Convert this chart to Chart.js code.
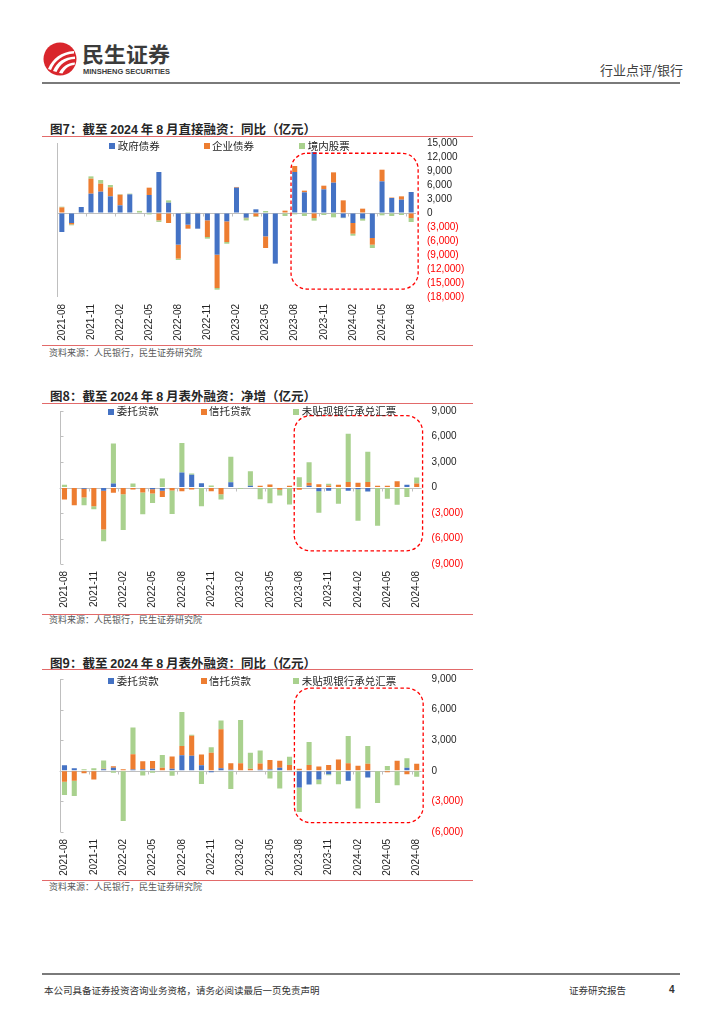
<!DOCTYPE html>
<html>
<head>
<meta charset="utf-8">
<script src="https://cdn.jsdelivr.net/npm/chart.js@4.4.1/dist/chart.umd.min.js"></script>
<style>
  html, body { margin:0; padding:0; background:#fff; }
  body { width:724px; height:1024px; position:relative; overflow:hidden;
         font-family:'Liberation Sans','Noto Sans CJK SC',sans-serif; color:#262626; }
  .abs { position:absolute; }
  .title { position:absolute; left:50px; font-size:12.5px; font-weight:bold; color:#262626; white-space:nowrap; line-height:16px; font-family:'Noto Sans CJK SC','Liberation Sans',sans-serif; }
  .title b { font-family:'Liberation Sans','Noto Sans CJK SC',sans-serif; }
  .rline { position:absolute; left:42px; width:431px; height:1px; background:#e26a6a; }
  .src { position:absolute; left:49px; font-size:9px; color:#595959; white-space:nowrap; line-height:12px; font-family:'Noto Sans CJK SC',sans-serif; }
  .lg { position:absolute; font-size:10.5px; color:#262626; white-space:nowrap; line-height:12px; font-family:'Noto Sans CJK SC',sans-serif; }
  .mk { position:absolute; width:6px; height:6px; }
  canvas { position:absolute; }
</style>
</head>
<body>
<!-- header -->
<svg class="abs" style="left:43px;top:42px" width="34" height="34" viewBox="0 0 34 34">
  <circle cx="17" cy="17" r="16.5" fill="#d9262c"/>
  <path d="M5 27 C 10 16, 18 10, 31 9 L 31 11.5 C 20 12.5, 12 18, 8 28 Z" fill="#fff"/>
  <path d="M10 29 C 14 20, 21 15, 32 14.5 L 32 17 C 23 17.5, 17 22, 13.5 30 Z" fill="#fff"/>
  <path d="M16 31 C 19 25, 24 21, 32 20.5 L 31.5 23 C 26 23.5, 22 26.5, 19.5 31.5 Z" fill="#fff"/>
</svg>
<svg class="abs" style="left:82px;top:42px" width="100" height="36">
  <text x="0" y="20" font-size="21" font-weight="bold" fill="#3b3b3b" font-family="Noto Sans CJK SC" textLength="88" lengthAdjust="spacingAndGlyphs">民生证券</text>
  <text x="1" y="31.5" font-size="7.8" font-weight="bold" fill="#3b3b3b" font-family="Liberation Sans" textLength="87" lengthAdjust="spacingAndGlyphs">MINSHENG SECURITIES</text>
</svg>
<div class="abs" style="left:600px;top:61px;font-size:13px;color:#404040;line-height:18px;font-family:'Noto Sans CJK SC',sans-serif;white-space:nowrap">行业点评/银行</div>
<div class="abs" style="left:42px;top:82px;width:638px;height:1.5px;background:#7a7a7a"></div>

<!-- figure 7 -->
<div class="title" style="top:121px">图7：截至 <b>2024</b> 年 <b>8</b> 月直接融资：同比（亿元）</div>
<div class="rline" style="top:135.5px"></div>
<canvas id="c7" width="431" height="208" style="left:42px;top:137px"></canvas>
<div class="rline" style="top:345px"></div>
<div class="src" style="top:347px">资料来源：人民银行，民生证券研究院</div>

<!-- figure 8 -->
<div class="title" style="top:388px">图8：截至 <b>2024</b> 年 <b>8</b> 月表外融资：净增（亿元）</div>
<div class="rline" style="top:402.5px"></div>
<canvas id="c8" width="431" height="209" style="left:42px;top:404px"></canvas>
<div class="rline" style="top:613.5px"></div>
<div class="src" style="top:614px">资料来源：人民银行，民生证券研究院</div>

<!-- figure 9 -->
<div class="title" style="top:655px">图9：截至 <b>2024</b> 年 <b>8</b> 月表外融资：同比（亿元）</div>
<div class="rline" style="top:669px"></div>
<canvas id="c9" width="431" height="210" style="left:42px;top:670px"></canvas>
<div class="rline" style="top:880px"></div>
<div class="src" style="top:881px">资料来源：人民银行，民生证券研究院</div>

<!-- footer -->
<div class="abs" style="left:42px;top:973px;width:638px;height:1.5px;background:#7a7a7a"></div>
<div class="abs" style="left:44px;top:983px;font-size:9.5px;color:#333;line-height:14px;white-space:nowrap;font-family:'Noto Sans CJK SC',sans-serif">本公司具备证券投资咨询业务资格，请务必阅读最后一页免责声明</div>
<div class="abs" style="left:569px;top:983px;font-size:9.5px;color:#333;line-height:14px;white-space:nowrap;font-family:'Noto Sans CJK SC',sans-serif">证券研究报告</div>
<div class="abs" style="left:669px;top:983px;font-size:10px;font-weight:bold;color:#333;line-height:14px">4</div>

<div id="legends"></div>

<script>
// ---------------- data ----------------
const months = ['2021-08','2021-09','2021-10','2021-11','2021-12','2022-01','2022-02','2022-03','2022-04','2022-05','2022-06','2022-07',
  '2022-08','2022-09','2022-10','2022-11','2022-12','2023-01','2023-02','2023-03','2023-04','2023-05','2023-06','2023-07',
  '2023-08','2023-09','2023-10','2023-11','2023-12','2024-01','2024-02','2024-03','2024-04','2024-05','2024-06','2024-07','2024-08'];

// 图7 直接融资 同比（亿元）
const govBond7 = [-4070,-2140,1285,4140,4570,3570,1640,4000,100,3860,8780,2210,
  -6780,-2500,-3360,-1570,-8930,-1790,5430,-1000,790,-5000,-10850,0,
  8780,4430,13070,5070,6500,-1000,-2140,-1210,-5360,6780,3210,2860,4500];
const corpBond7 = [1200,-300,0,3210,1710,1930,2280,0,0,1570,-1570,-2140,
  -3000,-860,80,-3570,-7140,-4430,150,-100,-710,-2500,0,500,
  1290,360,-1070,785,2210,2710,-2290,930,-1430,2500,100,710,-1070];
const equity7 = [150,-200,0,500,785,500,100,150,350,-300,-350,500,
  -290,200,0,-360,-360,-360,0,-500,-150,430,0,-640,
  -290,-640,-570,-430,-930,-100,-430,-430,-710,-500,-640,-430,-860];

// 图8 表外融资 净增（亿元）
const entrust8 = [-50,0,-160,0,-390,470,0,0,0,-200,-390,0,
  1760,1490,510,0,0,630,50,200,0,0,0,0,
  0,200,-430,-390,0,-390,-200,-470,0,0,0,310,0];
const trust8 = [-1370,-2080,-1020,-2200,-4550,-630,-780,-240,-590,-510,-740,-350,
  -430,-240,0,-430,-780,0,0,0,200,350,-270,200,
  -270,350,390,240,310,660,550,660,200,200,740,0,470];
const bill8 = [310,0,-900,-350,-1370,4700,-4230,470,-2550,-1100,1060,-2780,
  3490,160,-2200,240,-630,2980,-150,1700,-1370,-1840,-660,-2000,
  1210,2420,-2540,200,-1910,5660,-3700,3550,-4490,-1330,-2030,-1130,700];

// 图9 表外融资 同比（亿元）
const entrust9 = [550,260,0,0,150,290,0,130,160,200,0,200,
  1530,1470,550,-130,260,100,0,0,100,130,300,0,
  -1640,-1350,-850,-330,0,-980,0,-660,0,0,0,300,0];
const trust9 = [-1080,-980,-230,-850,50,160,160,1500,780,750,290,1210,
  910,1960,1040,1760,3810,650,750,200,620,920,690,560,
  200,560,430,560,1120,750,490,690,50,-130,980,-330,690];
const bill9 = [-1300,-1500,160,260,800,-200,-4920,2610,-460,-200,1270,-490,
  3330,100,-1300,550,850,-1790,4230,1570,1280,-750,-1740,820,
  -2400,2260,-460,-100,-1310,2660,-3700,1740,-3150,460,-1410,920,-590];

// axis ranges (亿元)
const axis7 = {min:-18000, max:15000, step:3000};
const axis8 = {min:-9000, max:9000, step:3000};
const axis9 = {min:-6000, max:9000, step:3000};

const names7 = ['政府债券','企业债券','境内股票'];
const names8 = ['委托贷款','信托贷款','未贴现银行承兑汇票'];

// highlighted period (dashed box), in data units
const hl7 = {from:'2023-08', to:'2024-08', top:12800, bottom:-16300};
const hl8 = {from:'2023-08', to:'2024-08', top:8450, bottom:-7450};
const hl9 = {from:'2023-08', to:'2024-08', top:8100, bottom:-5080};

// ---------------- styles ----------------
const BLUE = '#4472C4', ORANGE = '#ED7D31', GREEN = '#A9D18E';
Chart.defaults.font.family = "'Liberation Sans','Noto Sans CJK SC',sans-serif";
Chart.defaults.font.size = 10;
Chart.defaults.color = '#262626';

function fmt(v) {
  const s = Math.abs(v).toLocaleString('en-US');
  return v < 0 ? '(' + s + ')' : s;
}

const decor = {
  id: 'decor',
  beforeDatasetsDraw(chart, args, o) {
    const {ctx, chartArea: a, scales: {x, y}} = chart;
    ctx.save();
    ctx.strokeStyle = '#bfbfbf';
    ctx.lineWidth = 1;
    ctx.beginPath();
    const lx = Math.round(a.left) + 0.5;
    ctx.moveTo(lx, a.top); ctx.lineTo(lx, a.bottom);
    if (o.innerTicks) {
      y.ticks.forEach(t => {
        const py = Math.round(y.getPixelForValue(t.value)) + 0.5;
        ctx.moveTo(lx, py); ctx.lineTo(lx + 3, py);
      });
    }
    const z = Math.round(y.getPixelForValue(0)) + 0.5;
    ctx.moveTo(a.left, z); ctx.lineTo(a.right, z);
    const step = x.getPixelForValue(1) - x.getPixelForValue(0);
    for (let k = 3; k < chart.data.labels.length; k += 3) {
      const px = Math.round(x.getPixelForValue(k) - step / 2) + 0.5;
      ctx.moveTo(px, z); ctx.lineTo(px, z + 3);
    }
    ctx.stroke();
    ctx.restore();
  },
  afterDatasetsDraw(chart, args, o) {
    if (!o.box) return;
    const {ctx, scales: {x, y}} = chart;
    const labels = chart.data.labels;
    const step = x.getPixelForValue(1) - x.getPixelForValue(0);
    const x0 = x.getPixelForValue(labels.indexOf(o.box.from)) - step * o.padL;
    const x1 = x.getPixelForValue(labels.indexOf(o.box.to)) + step * o.padR;
    const y0 = y.getPixelForValue(o.box.top);
    const y1 = y.getPixelForValue(o.box.bottom);
    ctx.save();
    ctx.strokeStyle = '#ff0000';
    ctx.lineWidth = 1.3;
    ctx.setLineDash([3.5, 2.5]);
    ctx.beginPath();
    ctx.roundRect(x0, y0, x1 - x0, y1 - y0, 16);
    ctx.stroke();
    ctx.restore();
  }
};

function makeChart(id, series, names, ax, cfg) {
  const colors = [BLUE, ORANGE, GREEN];
  new Chart(document.getElementById(id), {
    type: 'bar',
    data: {
      labels: months,
      datasets: series.map((d, i) => ({
        label: names[i], data: d, backgroundColor: colors[i],
        borderWidth: 0, barPercentage: 0.52, categoryPercentage: 1.0, stack: 's'
      }))
    },
    options: {
      responsive: false, animation: false,
      layout: { padding: { left: cfg.left, top: cfg.top, right: 0, bottom: 0 } },
      plugins: {
        legend: { display: false }, tooltip: { enabled: false },
        decor: { box: cfg.box, padL: cfg.padL, padR: cfg.padR, innerTicks: cfg.innerTicks }
      },
      scales: {
        x: {
          stacked: true,
          grid: { display: false, drawTicks: false }, border: { display: false },
          ticks: {
            autoSkip: false, maxRotation: 90, minRotation: 90, padding: 7,
            color: '#262626', font: { size: 10 },
            callback: function (v, i) { return i % 3 === 0 ? this.getLabelForValue(v) : ''; }
          },
          afterFit: s => { s.height = cfg.xh; }
        },
        y: {
          stacked: true, position: 'right',
          min: ax.min, max: ax.max,
          grid: { display: true, drawOnChartArea: false, drawTicks: true, tickLength: cfg.tp, color: 'rgba(0,0,0,0)' },
          border: { display: false },
          ticks: {
            stepSize: ax.step, padding: 0, autoSkip: false, font: { size: 10 },
            color: c => c.tick.value < 0 ? '#ff0000' : '#262626',
            callback: v => fmt(v)
          },
          afterFit: s => { s.width = cfg.yw; }
        }
      }
    },
    plugins: [decor]
  });
}

makeChart('c7', [govBond7, corpBond7, equity7], names7, axis7,
  { left: 15, top: 6, xh: 48, yw: 57, tp: 11, box: hl7, padL: 0.38, padR: 0.72, innerTicks: false });
makeChart('c8', [entrust8, trust8, bill8], names8, axis8,
  { left: 17.6, top: 7, xh: 49, yw: 51.4, tp: 10, box: hl8, padL: 0.52, padR: 0.6, innerTicks: true });
makeChart('c9', [entrust9, trust9, bill9], names8, axis9,
  { left: 17.6, top: 9, xh: 48, yw: 51.4, tp: 10, box: hl9, padL: 0.5, padR: 0.66, innerTicks: true });

// legends (HTML, overlapping the plot like the original)
const legendSpecs = [
  { names: names7, y: 146, mk: [109, 204, 298.7], tx: [117.7, 212, 307.7] },
  { names: names8, y: 411.7, mk: [108.3, 200.7, 293.3], tx: [116.7, 209, 301.7] },
  { names: names8, y: 681, mk: [108.3, 200.7, 293.3], tx: [116.7, 209, 301.7] }
];
const cols = [BLUE, ORANGE, GREEN];
const host = document.getElementById('legends');
legendSpecs.forEach(L => {
  L.names.forEach((n, i) => {
    const m = document.createElement('div');
    m.className = 'mk';
    m.style.left = L.mk[i] + 'px'; m.style.top = (L.y - 3) + 'px'; m.style.background = cols[i];
    host.appendChild(m);
    const t = document.createElement('div');
    t.className = 'lg'; t.textContent = n;
    t.style.left = L.tx[i] + 'px'; t.style.top = (L.y - 6.5) + 'px';
    host.appendChild(t);
  });
});
</script>
</body>
</html>
